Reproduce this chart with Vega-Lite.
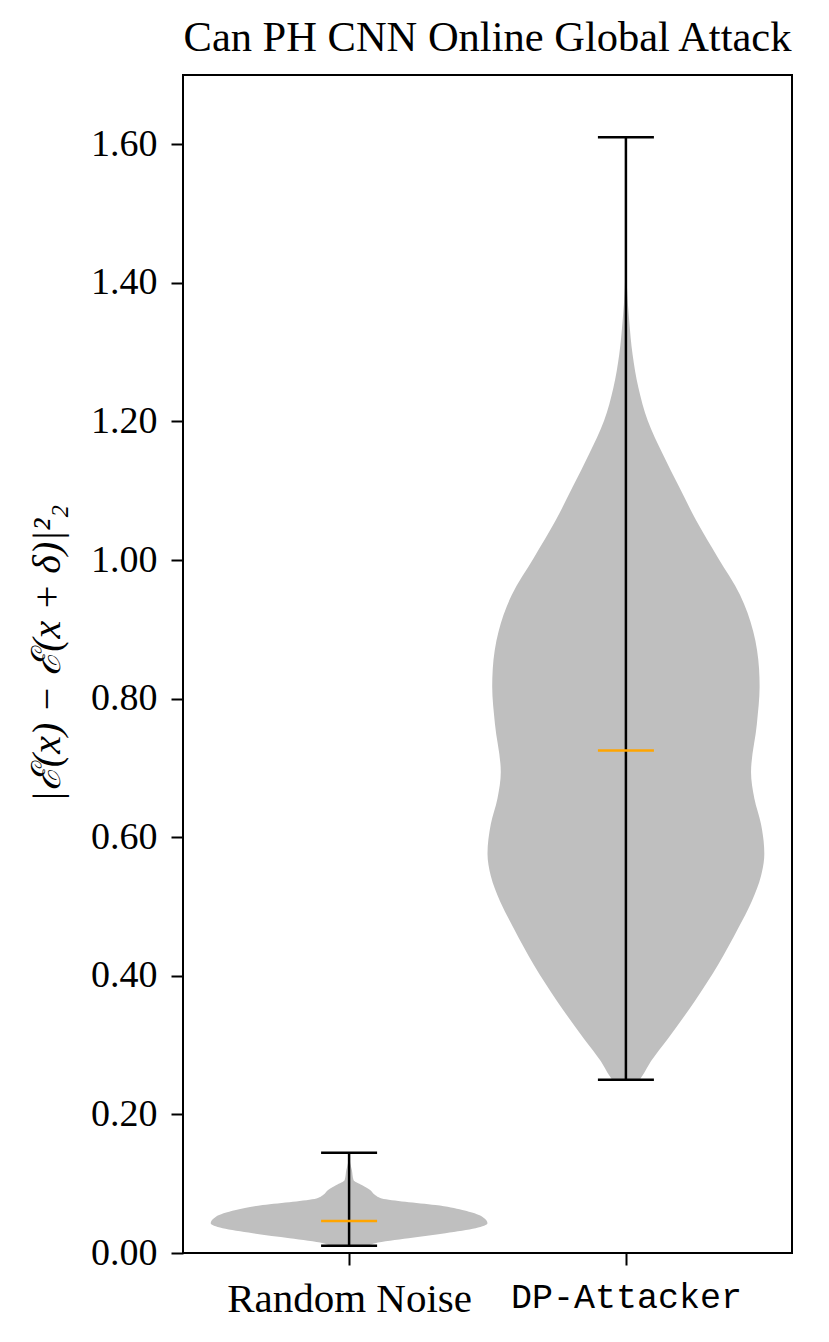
{
  "$schema": "https://vega.github.io/schema/vega-lite/v6.json",
  "width": 609,
  "height": 1178,
  "autosize": {"type": "none"},
  "padding": {"left": 183, "top": 75, "right": 37, "bottom": 89},
  "background": "white",
  "title": {
    "text": "Can PH CNN Online Global Attack",
    "font": "Liberation Serif",
    "fontSize": 42.5,
    "fontWeight": "normal",
    "color": "black",
    "frame": "group",
    "anchor": "middle",
    "baseline": "bottom",
    "offset": 14,
    "dy": 41
  },
  "config": {
    "view": {"stroke": "black", "strokeWidth": 2},
    "axis": {
      "grid": false,
      "domain": false,
      "tickColor": "black",
      "tickWidth": 2,
      "tickSize": 12,
      "labelColor": "black",
      "labelFont": "Liberation Serif",
      "labelFontSize": 38,
      "labelLimit": 0,
      "labelOverlap": false,
      "titleColor": "black",
      "titleFont": "Liberation Serif",
      "titleFontWeight": "normal"
    }
  },
  "datasets": {
    "violin": [
      {"g": "Random Noise", "v": 0.0105, "lo": 0.93, "hi": 1.07},
      {"g": "Random Noise", "v": 0.014, "lo": 0.906, "hi": 1.094},
      {"g": "Random Noise", "v": 0.0212, "lo": 0.785, "hi": 1.215},
      {"g": "Random Noise", "v": 0.0284, "lo": 0.652, "hi": 1.348},
      {"g": "Random Noise", "v": 0.0356, "lo": 0.543, "hi": 1.457},
      {"g": "Random Noise", "v": 0.0428, "lo": 0.5, "hi": 1.5},
      {"g": "Random Noise", "v": 0.0524, "lo": 0.519, "hi": 1.481},
      {"g": "Random Noise", "v": 0.062, "lo": 0.591, "hi": 1.409},
      {"g": "Random Noise", "v": 0.0692, "lo": 0.688, "hi": 1.312},
      {"g": "Random Noise", "v": 0.074, "lo": 0.797, "hi": 1.203},
      {"g": "Random Noise", "v": 0.0788, "lo": 0.882, "hi": 1.118},
      {"g": "Random Noise", "v": 0.0836, "lo": 0.906, "hi": 1.094},
      {"g": "Random Noise", "v": 0.0908, "lo": 0.924, "hi": 1.076},
      {"g": "Random Noise", "v": 0.098, "lo": 0.954, "hi": 1.046},
      {"g": "Random Noise", "v": 0.1053, "lo": 0.984, "hi": 1.016},
      {"g": "Random Noise", "v": 0.1197, "lo": 0.99, "hi": 1.01},
      {"g": "Random Noise", "v": 0.13, "lo": 0.996, "hi": 1.004},
      {"g": "Random Noise", "v": 0.1446, "lo": 0.999, "hi": 1.001},
      {"g": "DP-Attacker", "v": 0.25, "lo": 1.95, "hi": 2.05},
      {"g": "DP-Attacker", "v": 0.256, "lo": 1.94, "hi": 2.06},
      {"g": "DP-Attacker", "v": 0.277, "lo": 1.909, "hi": 2.091},
      {"g": "DP-Attacker", "v": 0.309, "lo": 1.849, "hi": 2.151},
      {"g": "DP-Attacker", "v": 0.363, "lo": 1.752, "hi": 2.248},
      {"g": "DP-Attacker", "v": 0.416, "lo": 1.667, "hi": 2.333},
      {"g": "DP-Attacker", "v": 0.469, "lo": 1.594, "hi": 2.406},
      {"g": "DP-Attacker", "v": 0.507, "lo": 1.546, "hi": 2.454},
      {"g": "DP-Attacker", "v": 0.544, "lo": 1.512, "hi": 2.488},
      {"g": "DP-Attacker", "v": 0.576, "lo": 1.5, "hi": 2.5},
      {"g": "DP-Attacker", "v": 0.619, "lo": 1.512, "hi": 2.488},
      {"g": "DP-Attacker", "v": 0.656, "lo": 1.536, "hi": 2.464},
      {"g": "DP-Attacker", "v": 0.694, "lo": 1.548, "hi": 2.452},
      {"g": "DP-Attacker", "v": 0.763, "lo": 1.527, "hi": 2.473},
      {"g": "DP-Attacker", "v": 0.817, "lo": 1.517, "hi": 2.483},
      {"g": "DP-Attacker", "v": 0.843, "lo": 1.519, "hi": 2.481},
      {"g": "DP-Attacker", "v": 0.897, "lo": 1.54, "hi": 2.46},
      {"g": "DP-Attacker", "v": 0.95, "lo": 1.588, "hi": 2.412},
      {"g": "DP-Attacker", "v": 1.003, "lo": 1.667, "hi": 2.333},
      {"g": "DP-Attacker", "v": 1.057, "lo": 1.746, "hi": 2.254},
      {"g": "DP-Attacker", "v": 1.105, "lo": 1.807, "hi": 2.193},
      {"g": "DP-Attacker", "v": 1.153, "lo": 1.867, "hi": 2.133},
      {"g": "DP-Attacker", "v": 1.201, "lo": 1.921, "hi": 2.079},
      {"g": "DP-Attacker", "v": 1.249, "lo": 1.955, "hi": 2.045},
      {"g": "DP-Attacker", "v": 1.297, "lo": 1.976, "hi": 2.024},
      {"g": "DP-Attacker", "v": 1.345, "lo": 1.988, "hi": 2.012},
      {"g": "DP-Attacker", "v": 1.393, "lo": 1.996, "hi": 2.004},
      {"g": "DP-Attacker", "v": 1.45, "lo": 1.999, "hi": 2.001},
      {"g": "DP-Attacker", "v": 1.61, "lo": 2.0, "hi": 2.0}
    ],
    "stats": [
      {"g": "Random Noise", "pos": 1, "min": 0.0105, "max": 0.1446, "median": 0.0461},
      {"g": "DP-Attacker", "pos": 2, "min": 0.25, "max": 1.61, "median": 0.725}
    ]
  },
  "layer": [
    {
      "data": {"name": "violin"},
      "mark": {"type": "area", "orient": "horizontal", "interpolate": "monotone", "color": "#bfbfbf", "opacity": 1},
      "encoding": {
        "y": {
          "field": "v", "type": "quantitative",
          "scale": {"domain": [0, 1.7], "nice": false, "zero": false},
          "axis": {
            "values": [0, 0.2, 0.4, 0.6, 0.8, 1.0, 1.2, 1.4, 1.6],
            "format": ".2f",
            "labelPadding": 14,
            "title": "|ℰ(x) − ℰ(x + δ)|²₂",
            "titleFontSize": 40,
            "titleFontStyle": "italic",
            "titleAngle": -90,
            "titleX": -136,
            "titleY": 578,
            "titleAlign": "center",
            "titleBaseline": "middle"
          }
        },
        "x": {
          "field": "lo", "type": "quantitative",
          "scale": {"domain": [0.4, 2.6], "nice": false, "zero": false},
          "axis": {
            "values": [1, 2],
            "title": null,
            "labelPadding": 14,
            "labelExpr": "datum.value == 1 ? 'Random Noise' : 'DP-Attacker'",
            "labelFont": {"condition": {"test": "datum.value == 2", "value": "Liberation Mono"}, "value": "Liberation Serif"},
            "labelFontSize": {"condition": {"test": "datum.value == 2", "value": 35}, "value": 41}
          }
        },
        "x2": {"field": "hi"},
        "detail": {"field": "g"}
      }
    },
    {
      "data": {"name": "stats"},
      "mark": {"type": "rule", "color": "black", "strokeWidth": 2.5},
      "encoding": {
        "x": {"field": "pos", "type": "quantitative", "title": null},
        "y": {"field": "min", "type": "quantitative", "title": "|ℰ(x) − ℰ(x + δ)|²₂"},
        "y2": {"field": "max"}
      }
    },
    {
      "data": {"name": "stats"},
      "mark": {"type": "tick", "orient": "horizontal", "color": "black", "size": 56, "thickness": 2.5, "opacity": 1},
      "encoding": {
        "x": {"field": "pos", "type": "quantitative", "title": null},
        "y": {"field": "min", "type": "quantitative", "title": "|ℰ(x) − ℰ(x + δ)|²₂"}
      }
    },
    {
      "data": {"name": "stats"},
      "mark": {"type": "tick", "orient": "horizontal", "color": "black", "size": 56, "thickness": 2.5, "opacity": 1},
      "encoding": {
        "x": {"field": "pos", "type": "quantitative", "title": null},
        "y": {"field": "max", "type": "quantitative", "title": "|ℰ(x) − ℰ(x + δ)|²₂"}
      }
    },
    {
      "data": {"name": "stats"},
      "mark": {"type": "tick", "orient": "horizontal", "color": "#ffa500", "size": 56, "thickness": 2.5, "opacity": 1},
      "encoding": {
        "x": {"field": "pos", "type": "quantitative", "title": null},
        "y": {"field": "median", "type": "quantitative", "title": "|ℰ(x) − ℰ(x + δ)|²₂"}
      }
    }
  ]
}
